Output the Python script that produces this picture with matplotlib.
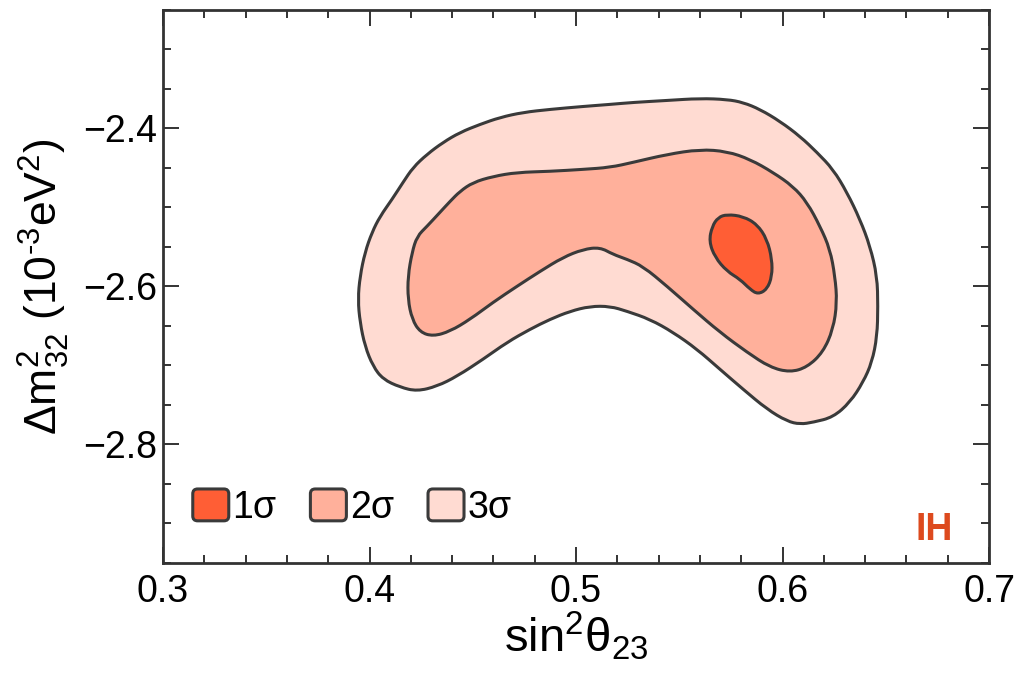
import matplotlib
matplotlib.use("Agg")
import matplotlib.pyplot as plt
from matplotlib.patches import PathPatch, Patch, FancyBboxPatch
from matplotlib.path import Path
from matplotlib.legend_handler import HandlerPatch
from matplotlib.ticker import MultipleLocator

plt.rcParams['font.family'] = ['Liberation Sans', 'DejaVu Sans']
plt.rcParams['mathtext.fontset'] = 'custom'
plt.rcParams['mathtext.rm'] = 'Liberation Sans'
plt.rcParams['mathtext.it'] = 'Liberation Sans'
plt.rcParams['mathtext.bf'] = 'Liberation Sans:bold'
plt.rcParams['mathtext.default'] = 'regular'

# ---- data: contour boundaries (sin^2 theta23, dm^2_32 in 1e-3 eV^2) ----
s3_x = [0.3944, 0.3954, 0.3978, 0.4012, 0.4051, 0.4109, 0.4162, 0.4211, 0.4278, 0.4356,
        0.4438, 0.4535, 0.4632, 0.4743, 0.4874, 0.5034, 0.5165, 0.5276, 0.5441, 0.5600,
        0.5731, 0.5809, 0.5891, 0.5988, 0.6085, 0.6167, 0.6245, 0.6312, 0.6375, 0.6424,
        0.6458, 0.6462, 0.6458, 0.6433, 0.6390, 0.6327, 0.6245, 0.6148, 0.6085, 0.6022,
        0.5925, 0.5809, 0.5697, 0.5586, 0.5470, 0.5358, 0.5247, 0.5165, 0.5068, 0.4971,
        0.4874, 0.4777, 0.4666, 0.4550, 0.4424, 0.4327, 0.4230, 0.4148, 0.4065, 0.4017,
        0.3978, 0.3954]
s3_y = [-2.6165, -2.5873, -2.5570, -2.5316, -2.5114, -2.4899, -2.4684, -2.4494, -2.4329, -2.4177,
        -2.4051, -2.3949, -2.3861, -2.3797, -2.3759, -2.3722, -2.3696, -2.3671, -2.3646, -2.3620,
        -2.3633, -2.3671, -2.3759, -2.3911, -2.4101, -2.4304, -2.4519, -2.4810, -2.5152, -2.5494,
        -2.5873, -2.6253, -2.6633, -2.6962, -2.7215, -2.7468, -2.7658, -2.7722, -2.7747, -2.7709,
        -2.7557, -2.7304, -2.7051, -2.6797, -2.6582, -2.6418, -2.6316, -2.6253, -2.6253, -2.6316,
        -2.6418, -2.6544, -2.6709, -2.6924, -2.7139, -2.7266, -2.7329, -2.7278, -2.7177, -2.7013,
        -2.6759, -2.6456]

s2_x = [0.4186, 0.4186, 0.4206, 0.4230, 0.4278, 0.4341, 0.4390, 0.4438, 0.4501, 0.4598,
        0.4714, 0.4874, 0.5034, 0.5165, 0.5276, 0.5441, 0.5600, 0.5731, 0.5843, 0.5954,
        0.6051, 0.6119, 0.6182, 0.6230, 0.6254, 0.6264, 0.6245, 0.6196, 0.6119, 0.6036,
        0.5939, 0.5828, 0.5697, 0.5567, 0.5441, 0.5324, 0.5247, 0.5179, 0.5116, 0.5034,
        0.4937, 0.4826, 0.4714, 0.4598, 0.4487, 0.4390, 0.4308, 0.4245, 0.4206]
s2_y = [-2.6165, -2.5873, -2.5570, -2.5367, -2.5241, -2.5063, -2.4924, -2.4797, -2.4684, -2.4608,
        -2.4557, -2.4544, -2.4519, -2.4494, -2.4430, -2.4329, -2.4266, -2.4291, -2.4392, -2.4557,
        -2.4734, -2.4937, -2.5241, -2.5532, -2.5873, -2.6203, -2.6544, -2.6835, -2.7025, -2.7089,
        -2.7025, -2.6835, -2.6582, -2.6291, -2.6000, -2.5747, -2.5658, -2.5595, -2.5506, -2.5532,
        -2.5633, -2.5810, -2.6000, -2.6203, -2.6418, -2.6570, -2.6633, -2.6582, -2.6418]

s1_x = [0.5731, 0.5809, 0.5877, 0.5925, 0.5949, 0.5949, 0.5925, 0.5881, 0.5843, 0.5794,
        0.5731, 0.5673, 0.5644, 0.5659, 0.5688]
s1_y = [-2.5089, -2.5114, -2.5215, -2.5405, -2.5658, -2.5873, -2.6038, -2.6101, -2.6038, -2.5911,
        -2.5810, -2.5633, -2.5430, -2.5241, -2.5127]

labels = ['1σ', '2σ', '3σ']
colors = ['#FF5E35', '#FFB09B', '#FFDBD2']
edge = '#3a3a3a'


def smooth_closed_path(xs, ys):
    """Closed quadratic-Bezier path using the traced points as control points."""
    n = len(xs)
    pts = list(zip(xs, ys))
    mids = [((pts[i][0] + pts[(i + 1) % n][0]) / 2, (pts[i][1] + pts[(i + 1) % n][1]) / 2)
            for i in range(n)]
    verts = [mids[-1]]
    codes = [Path.MOVETO]
    for i in range(n):
        verts += [pts[i], mids[i]]
        codes += [Path.CURVE3, Path.CURVE3]
    verts.append(mids[-1])
    codes.append(Path.CLOSEPOLY)
    return Path(verts, codes)


fig = plt.figure(figsize=(10.17, 6.74), dpi=100)
ax = fig.add_axes([0.1603, 0.1652, 0.8122, 0.8200])

for xs, ys, c in [(s3_x, s3_y, colors[2]), (s2_x, s2_y, colors[1]), (s1_x, s1_y, colors[0])]:
    patch = PathPatch(smooth_closed_path(xs, ys), facecolor=c, edgecolor=edge,
                      linewidth=2.2, joinstyle='round')
    ax.add_patch(patch)

ax.set_xlim(0.3, 0.7)
ax.set_ylim(-2.95, -2.25)
ax.xaxis.set_major_locator(MultipleLocator(0.1))
ax.xaxis.set_minor_locator(MultipleLocator(0.02))
ax.yaxis.set_major_locator(MultipleLocator(0.2))
ax.yaxis.set_minor_locator(MultipleLocator(0.05))
ax.tick_params(which='both', direction='in', top=True, right=True, width=1.4, color='#333333')
ax.tick_params(which='major', length=11.5, labelsize=27, pad=8)
ax.tick_params(which='minor', length=5.8)
ax.tick_params(axis='y', which='major', pad=4)
for sp in ax.spines.values():
    sp.set_linewidth(2.0)
    sp.set_color('#333333')

ax.set_xlabel(r'sin$^2\theta_{23}$', fontsize=34, labelpad=0)
ax.set_ylabel(r'$\Delta m^2_{32}$ (10$^{\text{-}3}$eV$^2$)', fontsize=32, labelpad=8)


class RoundBoxHandler(HandlerPatch):
    def create_artists(self, legend, orig_handle, xdescent, ydescent, width, height,
                       fontsize, trans):
        p = FancyBboxPatch((-xdescent, -ydescent), width, height,
                           boxstyle="round,pad=0,rounding_size=3.5",
                           facecolor=orig_handle.get_facecolor(), edgecolor=edge,
                           linewidth=2.2, transform=trans)
        return [p]


handles = [Patch(facecolor=c) for c in colors]
leg = ax.legend(handles, labels, loc='center left', bbox_to_anchor=(0.036, 0.10),
                ncol=3, frameon=False, fontsize=27, handlelength=0.96, handleheight=0.93,
                handletextpad=0.1, columnspacing=0.9, borderpad=0, borderaxespad=0,
                handler_map={Patch: RoundBoxHandler()})

ax.text(0.956, 0.041, 'IH', transform=ax.transAxes, ha='right', va='baseline',
        fontsize=27, fontweight='bold', color='#DD4A1E')

fig.savefig('out.png', dpi=100)
